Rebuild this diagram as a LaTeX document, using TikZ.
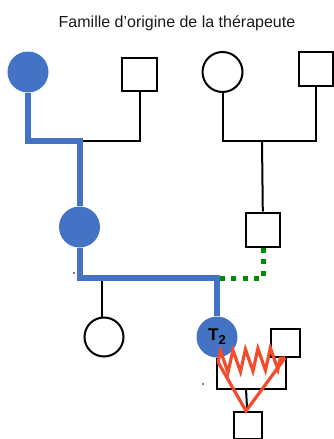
\documentclass[tikz,border=0pt]{standalone}
\usepackage{fontspec}
\setmainfont{Liberation Sans}
\usepackage{xcolor}
\definecolor{mine}{HTML}{4472C4}
\definecolor{cutoff}{HTML}{008C00}
\definecolor{conflict}{HTML}{F24C2C}
\usetikzlibrary{shapes,arrows.meta}
\usetikzlibrary{decorations.pathmorphing}
\usetikzlibrary{positioning}
\tikzstyle{female} = [circle, draw, line width=2pt, minimum size=40pt, inner sep=0pt]
\tikzstyle{male} = [rectangle, draw, line width=2pt, minimum size=34pt, inner sep=0pt]
\tikzstyle{line} = [draw, line width=2pt]

\begin{document}
\begin{tikzpicture}[x=1pt, y=-1pt, font=\fontsize{16}{18}\selectfont]
\useasboundingbox (0,0) rectangle (334,439);

% Define block styles
\tikzstyle{carrier} = [circle, fill=mine, minimum size=41pt, inner sep=0pt]
\tikzstyle{blueline} = [draw=mine, line width=6pt]
\tikzstyle{distant} = [draw=cutoff, line width=5pt, dash pattern=on 5pt off 6.5pt]
\tikzstyle{clash} = [draw=conflict, line width=3.2pt, line join=miter]

    % Place nodes
    \node [text=black!90] (title) at (177,23) {Famille d’origine de la thérapeute};

    \node [carrier] (granma) at (28,72) {};
    \node [male, minimum width=35pt, minimum height=33pt] (granpa) at (139.5,74.5) {};
    \node [female] (granma2) at (222.5,72) {};
    \node [male] (granpa2) at (316,69) {};

    \node [carrier] (mother) at (79.5,227) {};
    \node [male] (uncle) at (263,229.5) {};

    \node [female, minimum size=39pt] (sister) at (104,337) {};
    \node [carrier, font=\bfseries\fontsize{17}{18}\selectfont] (therap) at (217,337)
        {T\raisebox{-4pt}{\fontsize{13}{13}\selectfont 2}};
    \node [male, minimum size=28.5pt] (partner) at (285.5,343) {};
    \node [male, minimum width=28pt, minimum height=27pt] (child) at (248,425.5) {};

    \coordinate (first) at (79.5,141);
    \coordinate (second) at (262,141);
    \coordinate (sibs) at (79.5,278);
    \coordinate (sisdrop) at (102,278);
    \coordinate (tdrop) at (217,278);
    \coordinate (kid) at (246,389);
    \coordinate (zl) at (218,362);
    \coordinate (zr) at (285,358);
    \coordinate (zv) at (246,411);

    \path [line] (granpa) |- (first);
    \path [blueline] (granma) |- (first) -- (mother);
    \path [line] (granma2) |- (second);
    \path [line] (granpa2) |- (second);
    \path [line] (second) -- (uncle);

    \path [line] (sisdrop) -- (sisdrop |- sister.north);
    \path [blueline] (mother) -- (sibs) -- (tdrop) -- (therap);
    \path [distant] (uncle) |- (tdrop);

    \path [line] (therap) |- (kid) -| (partner);
    \path [line] (kid) -- (child);

    \path [clash, decorate, decoration={zigzag, segment length=12.5pt, amplitude=11pt}] (zl) -- (zr);
    \path [clash] (zl) -- (zv) -- (zr);

    \fill (74,273) circle (0.9pt);
    \fill (203,384) circle (0.9pt);
\end{tikzpicture}
\end{document}
